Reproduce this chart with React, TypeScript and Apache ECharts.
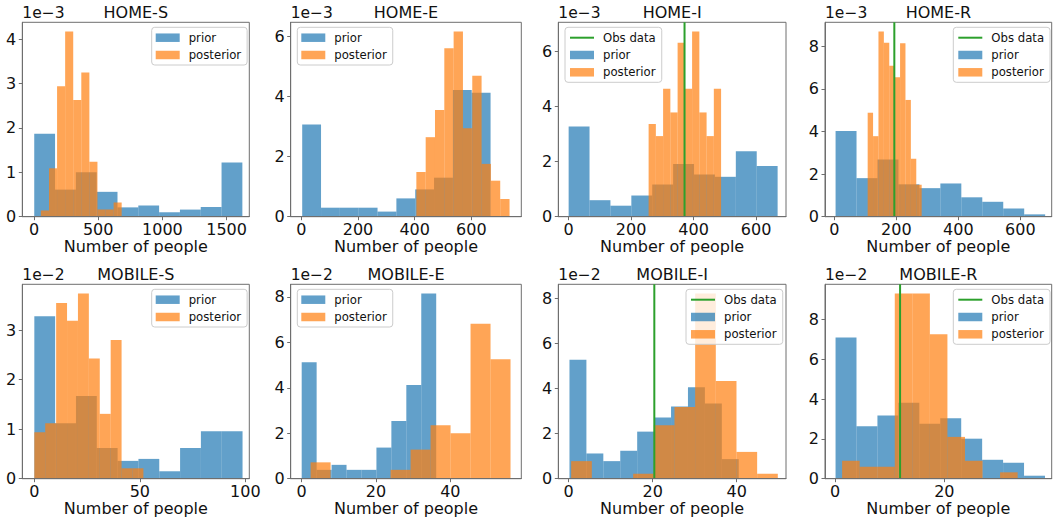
import React, { useEffect, useRef } from 'react';
import * as echarts from 'echarts';

// ---------------- data ----------------
const panelTitles = ['HOME-S', 'HOME-E', 'HOME-I', 'HOME-R', 'MOBILE-S', 'MOBILE-E', 'MOBILE-I', 'MOBILE-R'];
const offsetLabels = ['1e\u22123', '1e\u22123', '1e\u22123', '1e\u22123', '1e\u22122', '1e\u22122', '1e\u22122', '1e\u22122'];
const xAxisName = 'Number of people';

// HOME-S (densities in units of 1e-3)
const homeSPriorRange = [2, 1623];
const homeSPrior = [1.87, 0.61, 1.0, 0.56, 0.21, 0.25, 0.1, 0.16, 0.22, 1.22];
const homeSPostRange = [54, 683];
const homeSPost = [0.14, 1.09, 2.94, 4.17, 2.63, 3.25, 1.24, 0.16, 0.16, 0.32];

// HOME-E
const homeEPriorRange = [3, 668];
const homeEPrior = [3.07, 0.3, 0.3, 0.3, 0.17, 0.61, 0.91, 1.3, 4.22, 4.13];
const homeEPostRange = [406, 735];
const homeEPost = [1.49, 2.65, 3.56, 5.61, 6.17, 2.95, 4.7, 1.76, 1.2, 0.59];

// HOME-I
const homeIPriorRange = [0, 669];
const homeIPrior = [3.28, 0.6, 0.4, 0.77, 1.17, 1.92, 1.53, 1.45, 2.38, 1.84];
const homeIPostRange = [256, 488];
const homeIPost = [3.37, 2.93, 4.65, 3.79, 6.32, 4.65, 6.73, 3.79, 2.93, 4.65];
const homeIObs = 371;

// HOME-R
const homeRPriorRange = [4, 680];
const homeRPrior = [4.02, 1.81, 2.69, 1.52, 1.34, 1.56, 0.91, 0.7, 0.38, 0.11];
const homeRPostRange = [107.5, 281.7];
const homeRPost = [4.88, 3.78, 8.69, 8.16, 7.09, 6.55, 8.14, 5.48, 2.72, 1.5];
const homeRObs = 193.5;

// MOBILE-S (densities in units of 1e-2)
const mobileSPriorRange = [0, 98.7];
const mobileSPrior = [3.28, 1.12, 1.67, 0.62, 0.36, 0.4, 0.15, 0.62, 0.96, 0.96];
const mobileSPostRange = [0, 51.7];
const mobileSPost = [0.94, 1.12, 3.55, 3.19, 3.74, 2.43, 1.31, 2.8, 0.21, 0.21];

// MOBILE-E
const mobileEPriorRange = [0, 36.2];
const mobileEPrior = [5.13, 0.39, 0.61, 0.39, 0.39, 1.37, 2.54, 4.13, 8.15];
const mobileEPostRange = [2.4, 56.2];
const mobileEPost = [0.72, 0, 0, 0, 0.39, 1.28, 2.35, 2.0, 6.82, 5.26];

// MOBILE-I
const mobileIPriorRange = [0.2, 40.5];
const mobileIPrior = [5.28, 1.12, 0.78, 1.24, 2.09, 2.72, 3.21, 4.06, 3.34, 0.87];
const mobileIPostRange = [0.6, 49.8];
const mobileIPost = [0.78, 0, 0, 0.22, 2.37, 3.18, 8.22, 4.34, 1.19, 0.22];
const mobileIObs = 20.4;

// MOBILE-R
const mobileRPriorRange = [0.1, 38.4];
const mobileRPrior = [7.09, 2.63, 3.18, 3.81, 2.76, 3.04, 2.01, 0.95, 0.8, 0.15];
const mobileRPostRange = [1.3, 33.4];
const mobileRPost = [0.9, 0.6, 0.6, 9.3, 9.3, 7.25, 2.1, 0.9, 0, 0.32];
const mobileRObs = 11.9;

// axis limits and tick labels
const xLimits = [
  [-91, 1677], [-37.6, 776.5], [-33.1, 695.8], [-30.1, 701.1],
  [-5.7, 101.9], [-2.96, 59.1], [-2.46, 51.75], [-1.83, 39.63],
];
const xTickValues = [
  [0, 500, 1000, 1500], [0, 200, 400, 600], [0, 200, 400, 600], [0, 200, 400, 600],
  [0, 50, 100], [0, 20, 40], [0, 20, 40], [0, 20],
];
const yTickValues = [
  [0, 1, 2, 3, 4], [0, 2, 4, 6], [0, 2, 4, 6], [0, 2, 4, 6, 8],
  [0, 1, 2, 3], [0, 2, 4, 6, 8], [0, 2, 4, 6, 8], [0, 2, 4, 6, 8],
];

const panels = [
  { prior: [homeSPriorRange, homeSPrior], post: [homeSPostRange, homeSPost], obs: null },
  { prior: [homeEPriorRange, homeEPrior], post: [homeEPostRange, homeEPost], obs: null },
  { prior: [homeIPriorRange, homeIPrior], post: [homeIPostRange, homeIPost], obs: homeIObs },
  { prior: [homeRPriorRange, homeRPrior], post: [homeRPostRange, homeRPost], obs: homeRObs },
  { prior: [mobileSPriorRange, mobileSPrior], post: [mobileSPostRange, mobileSPost], obs: null },
  { prior: [mobileEPriorRange, mobileEPrior], post: [mobileEPostRange, mobileEPost], obs: null },
  { prior: [mobileIPriorRange, mobileIPrior], post: [mobileIPostRange, mobileIPost], obs: mobileIObs },
  { prior: [mobileRPriorRange, mobileRPrior], post: [mobileRPostRange, mobileRPost], obs: mobileRObs },
] as { prior: [number[], number[]]; post: [number[], number[]]; obs: number | null }[];

// ---------------- layout / style ----------------
const frames = [
  [22.3, 22.3, 227.0], [290.7, 22.3, 230.6], [558.3, 22.3, 227.7], [825.0, 22.3, 226.7],
  [22.3, 284.3, 227.0], [290.7, 284.3, 230.6], [558.3, 284.3, 227.7], [825.0, 284.3, 226.7],
];
const frameH = 194.4;
const legendPos = [
  [151.7, 27.3], [297.3, 27.3], [565, 27.3], [953.3, 27.3],
  [151.7, 289.3], [297.3, 289.3], [686, 289.3], [953.3, 289.3],
];
const titleY = [12.8, 274.8];

const FONT = 'DejaVu Sans';
const TXT = '#111111';
const SPINE = '#6e6e6e';
const BLUE = '#1f77b4';
const ORANGE = '#ff7f0e';
const GREEN = '#2ca02c';

function toBins(range: number[], heights: number[]) {
  const n = heights.length;
  const w = (range[1] - range[0]) / n;
  return heights.map((h, i) => [range[0] + i * w, range[0] + (i + 1) * w, h]);
}

function histSeries(name: string, color: string, bins: number[][], idx: number, z: number) {
  return {
    type: 'custom',
    name,
    xAxisIndex: idx,
    yAxisIndex: idx,
    z,
    silent: true,
    itemStyle: { color, opacity: 0.7 },
    encode: { x: [0, 1], y: 2 },
    data: bins,
    renderItem: (_params: any, api: any) => {
      const a = api.coord([api.value(0), api.value(2)]);
      const b = api.coord([api.value(1), 0]);
      return {
        type: 'rect',
        shape: { x: a[0], y: a[1], width: b[0] - a[0], height: b[1] - a[1] },
        style: { fill: color, opacity: 0.7 },
      };
    },
  };
}

const plainNumber = (v: number) => String(v);

function buildOption() {
  const grid: any[] = [];
  const xAxis: any[] = [];
  const yAxis: any[] = [];
  const series: any[] = [];
  const legend: any[] = [];
  const graphic: any[] = [];

  panels.forEach((p, i) => {
    const [left, top, width] = frames[i];
    const ymax = 1.05 * Math.max(...p.prior[1], ...p.post[1]);
    grid.push({
      left, top, width, height: frameH,
      show: true, borderColor: SPINE, borderWidth: 1, backgroundColor: 'transparent',
      containLabel: false, outerBoundsMode: 'none',
    });
    xAxis.push({
      gridIndex: i, type: 'value', min: xLimits[i][0], max: xLimits[i][1], z: 10,
      axisLine: { show: true, onZero: false, lineStyle: { color: SPINE, width: 1 } },
      axisTick: { show: true, length: 3.5, customValues: xTickValues[i], lineStyle: { color: SPINE } },
      axisLabel: { customValues: xTickValues[i], formatter: plainNumber, fontSize: 16, fontFamily: FONT, color: TXT, margin: 5 },
      splitLine: { show: false },
      name: xAxisName, nameLocation: 'middle', nameGap: 20.5,
      nameTextStyle: { fontSize: 16, fontFamily: FONT, color: TXT },
    });
    yAxis.push({
      gridIndex: i, type: 'value', min: 0, max: ymax, z: 10,
      axisLine: { show: true, onZero: false, lineStyle: { color: SPINE, width: 1 } },
      axisTick: { show: true, length: 3.5, customValues: yTickValues[i], lineStyle: { color: SPINE } },
      axisLabel: { customValues: yTickValues[i], formatter: plainNumber, fontSize: 16, fontFamily: FONT, color: TXT, margin: 6 },
      splitLine: { show: false },
    });
    series.push(histSeries('prior', BLUE, toBins(p.prior[0], p.prior[1]), i, 2));
    series.push(histSeries('posterior', ORANGE, toBins(p.post[0], p.post[1]), i, 3));
    if (p.obs != null) {
      series.push({
        type: 'line', name: 'Obs data', xAxisIndex: i, yAxisIndex: i, z: 5, silent: true,
        data: [[p.obs, 0], [p.obs, ymax]], symbol: 'none',
        lineStyle: { color: GREEN, width: 2 }, itemStyle: { color: GREEN },
      });
    }
    const items: any[] = [];
    if (p.obs != null) items.push({ name: 'Obs data', itemStyle: { opacity: 0 }, lineStyle: { color: GREEN, width: 2 } });
    items.push({ name: 'prior', icon: 'rect', itemStyle: { color: BLUE, opacity: 0.7 } });
    items.push({ name: 'posterior', icon: 'rect', itemStyle: { color: ORANGE, opacity: 0.7 } });
    legend.push({
      orient: 'vertical', left: legendPos[i][0], top: legendPos[i][1],
      padding: [3.4, 6, 3, 4], itemWidth: 24, itemHeight: 8.5, itemGap: 3.3,
      backgroundColor: 'rgba(255,255,255,0.8)', borderColor: '#cccccc', borderWidth: 1, borderRadius: 3,
      selectedMode: false,
      textStyle: { fontSize: 11.7, fontFamily: FONT, color: TXT, lineHeight: 14, padding: [0, 0, 0, 4] },
      data: items,
    });
    const ty = titleY[i < 4 ? 0 : 1];
    graphic.push({
      type: 'text', x: left + width / 2, y: ty, silent: true,
      style: {
        text: panelTitles[i], fill: TXT, font: `16px "${FONT}"`,
        align: 'center', verticalAlign: 'middle', textAlign: 'center', textVerticalAlign: 'middle',
      },
    });
    graphic.push({
      type: 'text', x: left, y: ty, silent: true,
      style: {
        text: offsetLabels[i], fill: TXT, font: `15.5px "${FONT}"`,
        align: 'left', verticalAlign: 'middle', textAlign: 'left', textVerticalAlign: 'middle',
      },
    });
  });

  return { animation: false, backgroundColor: '#ffffff', grid, xAxis, yAxis, series, legend, graphic };
}

export default function App() {
  const ref = useRef<HTMLDivElement>(null);
  useEffect(() => {
    if (!ref.current) return;
    const chart = echarts.init(ref.current, undefined, { renderer: 'svg' });
    chart.setOption(buildOption() as any);
    return () => chart.dispose();
  }, []);
  return (
    <div
      ref={ref}
      style={{ position: 'fixed', left: 0, top: 0, width: 1053, height: 525, background: '#fff' }}
    />
  );
}
